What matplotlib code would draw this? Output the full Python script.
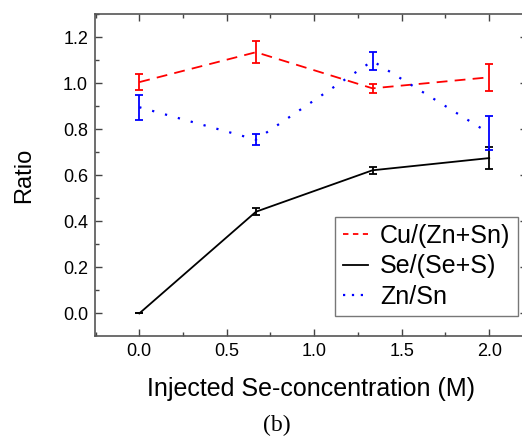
import matplotlib
matplotlib.use("Agg")
import matplotlib.pyplot as plt
from matplotlib.lines import Line2D
from matplotlib.ticker import MultipleLocator, FormatStrFormatter

plt.rcParams['font.family'] = ['Liberation Sans', 'DejaVu Sans']

# injected Se concentration (M)
conc = [0.0, 0.667, 1.333, 2.0]

cu_ratio = [1.005, 1.135, 0.978, 1.026]
cu_err = [0.034, 0.047, 0.02, 0.059]

se_ratio = [0.0, 0.442, 0.622, 0.675]
se_err = [0.0, 0.015, 0.014, 0.046]

zn_ratio = [0.896, 0.755, 1.097, 0.783]
zn_err = [0.054, 0.023, 0.041, 0.074]

W, H = 522, 437
fig = plt.figure(figsize=(W / 100, H / 100), dpi=100)
# axes box in pixels: left 95, right off the edge, top 14, bottom 336
ax = fig.add_axes([95 / W, (H - 336) / H, 432 / W, 322 / H])

red_ls = (0, (6, 4))
blue_ls = (0, (1, 5))
ax.errorbar(conc, cu_ratio, yerr=cu_err, color='red', ls=red_ls, lw=1.3,
            capsize=3, elinewidth=1.3, capthick=1.3)
ax.errorbar(conc, se_ratio, yerr=se_err, color='black', ls='-', lw=1.3,
            capsize=3, elinewidth=1.3, capthick=1.3)
ax.errorbar(conc, zn_ratio, yerr=zn_err, color='blue', ls=blue_ls, lw=1.6,
            capsize=3, elinewidth=1.3, capthick=1.3)

ax.set_xlim(-0.253, 2.216)
ax.set_ylim(-0.098, 1.301)
ax.xaxis.set_major_locator(MultipleLocator(0.5))
ax.xaxis.set_minor_locator(MultipleLocator(0.25))
ax.yaxis.set_major_locator(MultipleLocator(0.2))
ax.yaxis.set_minor_locator(MultipleLocator(0.1))
ax.xaxis.set_major_formatter(FormatStrFormatter('%.1f'))
ax.yaxis.set_major_formatter(FormatStrFormatter('%.1f'))
ax.tick_params(which='both', direction='in', top=True, right=True,
               labelsize=13, color='#444444', pad=5)
ax.tick_params(which='major', length=5, width=1)
ax.tick_params(which='minor', length=3, width=1)
for s in ax.spines.values():
    s.set_color('#555555')
    s.set_linewidth(1.2)

ax.set_xlabel('Injected Se-concentration (M)', fontsize=18, labelpad=12)
ax.set_ylabel('Ratio', fontsize=17, labelpad=20)

handles = [Line2D([], [], color='red', ls=(0, (3, 2.5)), lw=1.3),
           Line2D([], [], color='black', ls='-', lw=1.3),
           Line2D([], [], color='blue', ls=(0, (1, 3)), lw=1.6)]
labels = ['Cu/(Zn+Sn)', 'Se/(Se+S)', 'Zn/Sn']
leg = ax.legend(handles, labels, loc='lower right',
                bbox_to_anchor=(518 / W, (H - 316) / H),
                bbox_transform=fig.transFigure, borderaxespad=0,
                fontsize=18, frameon=True, fancybox=False,
                edgecolor='#555555', handlelength=1.0, handletextpad=0.5,
                borderpad=0.3, labelspacing=0.25)
leg.get_frame().set_linewidth(1.0)

fig.text(277 / W, 1 - 425 / H, '(b)', ha='center', va='center', fontsize=17,
         family='Liberation Serif')

fig.savefig('out.png', dpi=100)
